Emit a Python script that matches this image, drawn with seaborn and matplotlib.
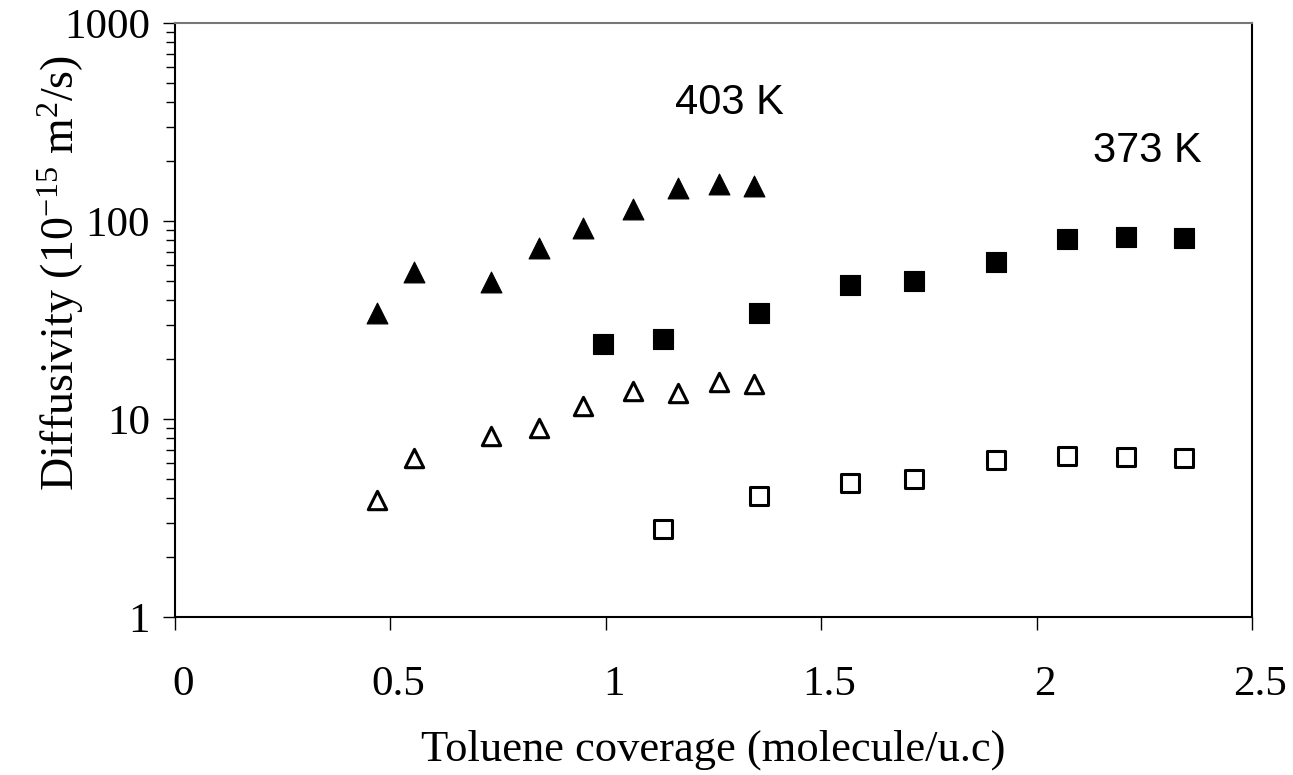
import pandas as pd
import matplotlib.pyplot as plt
import seaborn as sns
from matplotlib.ticker import LogLocator, NullFormatter, FixedLocator
from matplotlib.transforms import ScaledTranslation

# --- data ---
x_403 = [0.47, 0.555, 0.733, 0.845, 0.947, 1.063, 1.168, 1.263, 1.344]
d_403_filled = [34.3, 55.1, 49.3, 73.3, 92.3, 114.6, 147.3, 153.2, 150.7]
d_403_open = [3.9, 6.33, 8.25, 8.98, 11.6, 13.8, 13.6, 15.3, 15.1]

x_373_filled = [0.993, 1.132, 1.356, 1.568, 1.715, 1.905, 2.071, 2.207, 2.342]
d_373_filled = [23.9, 25.3, 34.4, 47.3, 49.9, 62.2, 80.8, 83.3, 82.4]

x_373_open = [1.132, 1.356, 1.568, 1.715, 1.905, 2.071, 2.207, 2.342]
d_373_open = [2.78, 4.10, 4.73, 4.98, 6.21, 6.50, 6.41, 6.33]

x_ticks = [0, 0.5, 1, 1.5, 2, 2.5]
x_tick_labels = ["0", "0.5", "1", "1.5", "2", "2.5"]
y_ticks = [1, 10, 100, 1000]
y_tick_labels = ["1", "10", "100", "1000"]

sns.set_theme(style="white")
plt.rcParams['font.family'] = ['Liberation Serif', 'DejaVu Serif']
plt.rcParams['mathtext.fontset'] = 'custom'
plt.rcParams['mathtext.rm'] = 'Liberation Serif'
plt.rcParams['mathtext.it'] = 'Liberation Serif:italic'
plt.rcParams['text.color'] = 'black'
plt.rcParams['axes.labelcolor'] = 'black'
plt.rcParams['xtick.color'] = 'black'
plt.rcParams['ytick.color'] = 'black'

fig = plt.figure(figsize=(12.93, 7.75), dpi=100)
ax = fig.add_axes([175 / 1293, 1 - 617 / 775, 1077 / 1293, 594 / 775])

sns.scatterplot(x=x_403, y=d_403_filled, marker='^', s=225, color='black',
                edgecolor='black', linewidth=0.8, ax=ax)
sns.scatterplot(x=x_403, y=d_403_open, marker='^', s=175, facecolor='white',
                edgecolor='black', linewidth=2.2, ax=ax)
sns.scatterplot(x=x_373_filled, y=d_373_filled, marker='s', s=200, color='black',
                edgecolor='black', linewidth=0.8, ax=ax)
sns.scatterplot(x=x_373_open, y=d_373_open, marker='s', s=160, facecolor='white',
                edgecolor='black', linewidth=2.2, ax=ax)

ax.set_yscale('log')
ax.set_xlim(0, 2.5)
ax.set_ylim(1, 1000)

ax.xaxis.set_major_locator(FixedLocator(x_ticks))
ax.set_xticklabels(x_tick_labels)
ax.yaxis.set_major_locator(FixedLocator(y_ticks))
ax.set_yticklabels(y_tick_labels)
ax.yaxis.set_minor_locator(LogLocator(base=10, subs=range(2, 10)))
ax.yaxis.set_minor_formatter(NullFormatter())

ax.tick_params(axis='x', which='major', direction='out', length=9, width=1,
               labelsize=31, pad=26, bottom=True)
ax.tick_params(axis='y', which='major', direction='out', length=9, width=1,
               labelsize=31, pad=9, left=True)
ax.tick_params(axis='y', which='minor', direction='out', length=6.5, width=1,
               left=True)

# nudge x tick labels to the right a bit, like the original
offset = ScaledTranslation(8 / 100, 0, fig.dpi_scale_trans)
for lab in ax.get_xticklabels():
    lab.set_transform(lab.get_transform() + offset)

for side in ['left', 'bottom', 'right']:
    ax.spines[side].set_color('black')
    ax.spines[side].set_linewidth(1.5)
ax.spines['top'].set_color('#777777')
ax.spines['top'].set_linewidth(1.5)

ax.set_xlabel("Toluene coverage (molecule/u.c)", fontsize=32, labelpad=18)
ax.set_ylabel(r"Diffusivity (10$^{-15}$ m$^{2}$/s)", fontsize=33)
ax.yaxis.set_label_coords(-0.083, 0.58)

ax.text(0.515, 0.865, "403 K", transform=ax.transAxes, fontsize=30,
        family='Liberation Sans', ha='center', va='center')
ax.text(0.903, 0.785, "373 K", transform=ax.transAxes, fontsize=30,
        family='Liberation Sans', ha='center', va='center')

fig.savefig("out.png", dpi=100)
